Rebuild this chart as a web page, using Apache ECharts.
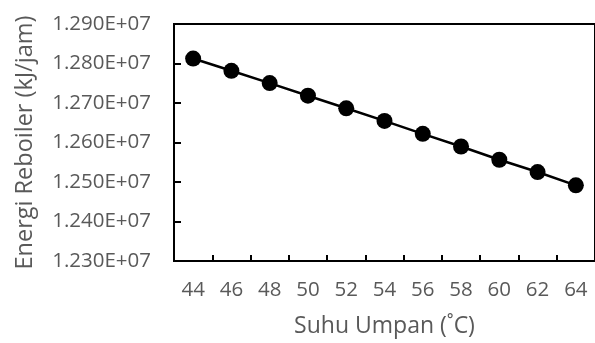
<!DOCTYPE html>
<html>
<head>
<meta charset="utf-8">
<script src="https://cdn.jsdelivr.net/npm/echarts@6/dist/echarts.min.js"></script>
<style>html,body{margin:0;padding:0;background:#fff;}#c{width:595px;height:343px;}</style>
</head>
<body>
<div id="c"></div>
<script>
const categories = ['44','46','48','50','52','54','56','58','60','62','64'];
const energy = [12812500, 12781500, 12750400, 12718500, 12686600, 12654600, 12621900, 12589900, 12556300, 12525200, 12491600];
const xTitle = 'Suhu Umpan (˚C)';
const yTitle = 'Energi Reboiler (kJ/jam)';

const FONT = 'Open Sans';
const GREY = '#595959';
const chart = echarts.init(document.getElementById('c'), null, {renderer: 'canvas'});
chart.setOption({
  animation: false,
  backgroundColor: '#fff',
  grid: {left: 174, top: 24, width: 426, height: 238, show: true, borderColor: '#000', borderWidth: 2, containLabel: false},
  xAxis: {
    type: 'category',
    data: categories,
    boundaryGap: true,
    name: xTitle,
    nameLocation: 'middle',
    nameGap: 54,
    nameTextStyle: {fontFamily: FONT, fontSize: 23, color: GREY},
    axisLine: {show: true, lineStyle: {color: '#000', width: 2}},
    axisTick: {show: true, inside: true, length: 6, lineStyle: {color: '#000', width: 2}},
    axisLabel: {fontFamily: FONT, fontSize: 20.5, color: GREY, margin: 19},
    splitLine: {show: false}
  },
  yAxis: {
    type: 'value',
    min: 12300000,
    max: 12900000,
    interval: 100000,
    name: yTitle,
    nameLocation: 'middle',
    nameGap: 137,
    nameTextStyle: {fontFamily: FONT, fontSize: 23.5, color: GREY},
    axisLine: {show: true, lineStyle: {color: '#000', width: 2}},
    axisTick: {show: true, inside: true, length: 7, lineStyle: {color: '#000', width: 2}},
    axisLabel: {fontFamily: FONT, fontSize: 20.5, color: GREY, margin: 23,
      formatter: v => (v / 1e7).toFixed(3) + 'E+07'},
    splitLine: {show: false}
  },
  series: [{
    type: 'line',
    data: energy,
    symbol: 'circle',
    symbolSize: 16,
    lineStyle: {color: '#000', width: 2.5},
    itemStyle: {color: '#000'},
    z: 3
  }]
});
</script>
</body>
</html>
